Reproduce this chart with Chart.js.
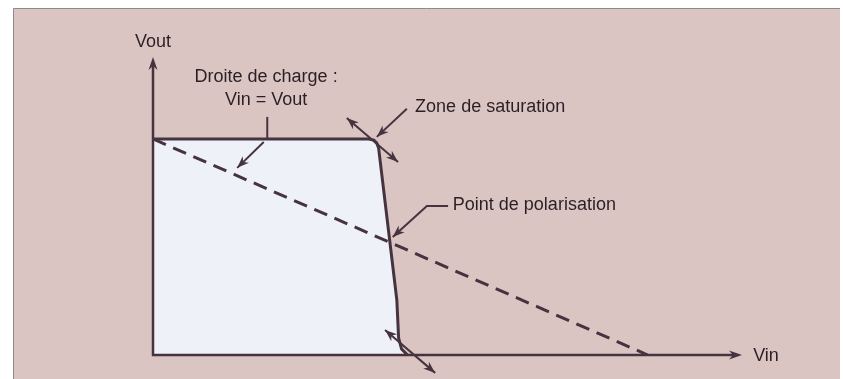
<!DOCTYPE html>
<html>
<head>
<meta charset="utf-8">
<script src="https://cdn.jsdelivr.net/npm/chart.js@4.4.1/dist/chart.umd.min.js"></script>
<style>
  html, body { margin: 0; padding: 0; background: #ffffff; }
  #wrap { width: 843px; height: 379px; position: relative; }
</style>
</head>
<body>
<div id="wrap"><canvas id="c"></canvas></div>
<script>
/* ── Data (arbitrary units, Vin / Vout 0..10) ───────────── */
const curveVin  = [0, 3.66, 3.75, 3.80, 3.83, 4.14, 4.17, 4.22, 4.32];
const curveVout = [7.25, 7.25, 7.21, 7.11, 6.95, 1.84, 0.57, 0.20, 0];

const loadVin  = [0, 8.40];
const loadVout = [7.25, 0];

const axisMax = 10;

/* Text labels and leaders, in the same data units */
const labels = [
  { text: 'Droite de charge :', x: 1.92, y: 9.33, align: 'center' },
  { text: 'Vin = Vout',         x: 1.92, y: 8.56, align: 'center' },
  { text: 'Zone de saturation', x: 4.45, y: 8.32, align: 'left' },
  { text: 'Point de polarisation', x: 5.09, y: 5.03, align: 'left' },
  { text: 'Vout', x: 0, y: 10.5, align: 'center' },
  { text: 'Vin',  x: 10.19, y: -0.05, align: 'left' },
];
// polylines: arrowheads at 'end' or 'both'
const leaders = [
  { pts: [[1.94, 7.99], [1.94, 7.25]], head: 'none' },
  { pts: [[1.88, 7.15], [1.43, 6.28]], head: 'end' },
  { pts: [[4.31, 8.26], [3.80, 7.32]], head: 'end' },
  { pts: [[3.29, 7.95], [4.16, 6.48]], head: 'both' },
  { pts: [[5.01, 5.00], [4.65, 5.00], [4.07, 3.96]], head: 'end' },
  { pts: [[3.94, 0.84], [4.79, -0.60]], head: 'both' },
];

const INK  = '#45343f';
const TEXT = '#2a1f25';

function toXY(a, b) { return a.map((v, i) => ({ x: v, y: b[i] })); }

function arrowHead(ctx, x0, y0, x1, y1, len, wid) {
  const ang = Math.atan2(y1 - y0, x1 - x0);
  ctx.save();
  ctx.translate(x1, y1);
  ctx.rotate(ang);
  ctx.beginPath();
  ctx.moveTo(0, 0);
  ctx.lineTo(-len, -wid / 2);
  ctx.lineTo(-len * 0.7, 0);
  ctx.lineTo(-len, wid / 2);
  ctx.closePath();
  ctx.fill();
  ctx.restore();
}

/* Panel background */
const panelPlugin = {
  id: 'panel',
  beforeDraw(chart) {
    const { ctx, width, height } = chart;
    ctx.save();
    ctx.fillStyle = '#ffffff';
    ctx.fillRect(0, 0, width, height);
    ctx.fillStyle = '#dbc5c3';
    ctx.fillRect(13, 9, width - 16, height - 9);
    ctx.strokeStyle = '#8d8a8c';
    ctx.lineWidth = 1;
    ctx.beginPath();
    ctx.moveTo(13.5, height);
    ctx.lineTo(13.5, 8.5);
    ctx.lineTo(width - 3, 8.5);
    ctx.stroke();
    ctx.restore();
  },
};

/* Axes with arrows, labels, leader arrows */
const diagramPlugin = {
  id: 'diagram',
  afterDatasetsDraw(chart) {
    const { ctx, scales: { x, y } } = chart;
    const px = v => x.getPixelForValue(v);
    const py = v => y.getPixelForValue(v);
    ctx.save();
    ctx.strokeStyle = INK;
    ctx.fillStyle = INK;
    ctx.lineCap = 'butt';

    // axes
    ctx.lineWidth = 2.5;
    ctx.beginPath();
    ctx.moveTo(px(0), py(axisMax) + 8);
    ctx.lineTo(px(0), py(0));
    ctx.lineTo(px(axisMax) - 8, py(0));
    ctx.stroke();
    arrowHead(ctx, px(0), py(0), px(0), py(axisMax), 13, 9);
    arrowHead(ctx, px(0), py(0), px(axisMax), py(0), 13, 9);

    // leaders
    ctx.lineWidth = 2;
    leaders.forEach(l => {
      const p = l.pts.map(q => [px(q[0]), py(q[1])]);
      ctx.beginPath();
      p.forEach((q, i) => i ? ctx.lineTo(q[0], q[1]) : ctx.moveTo(q[0], q[1]));
      ctx.stroke();
      const n = p.length;
      if (l.head === 'end' || l.head === 'both')
        arrowHead(ctx, p[n - 2][0], p[n - 2][1], p[n - 1][0], p[n - 1][1], 12, 9);
      if (l.head === 'both')
        arrowHead(ctx, p[1][0], p[1][1], p[0][0], p[0][1], 12, 9);
    });

    // text
    ctx.fillStyle = TEXT;
    ctx.font = '18px "Liberation Sans", Arial, sans-serif';
    ctx.textBaseline = 'middle';
    labels.forEach(t => {
      ctx.textAlign = t.align;
      ctx.fillText(t.text, px(t.x), py(t.y));
    });
    ctx.restore();
  },
};

new Chart(document.getElementById('c'), {
  type: 'scatter',
  data: {
    datasets: [
      {
        label: 'Caractéristique',
        data: toXY(curveVin, curveVout),
        showLine: true,
        borderColor: INK,
        borderWidth: 3,
        backgroundColor: '#eff1f8',
        fill: 'origin',
        pointRadius: 0,
        tension: 0,
        order: 2,
      },
      {
        label: 'Droite de charge',
        data: toXY(loadVin, loadVout),
        showLine: true,
        borderColor: INK,
        borderWidth: 3,
        borderDash: [14, 8],
        pointRadius: 0,
        fill: false,
        order: 1,
      },
    ],
  },
  options: {
    responsive: true,
    maintainAspectRatio: false,
    animation: false,
    layout: { padding: { left: 153, right: 101, top: 57, bottom: 24 } },
    plugins: { legend: { display: false }, tooltip: { enabled: false } },
    scales: {
      x: { type: 'linear', min: 0, max: axisMax, display: false },
      y: { type: 'linear', min: 0, max: axisMax, display: false },
    },
  },
  plugins: [panelPlugin, diagramPlugin],
});
</script>
</body>
</html>
